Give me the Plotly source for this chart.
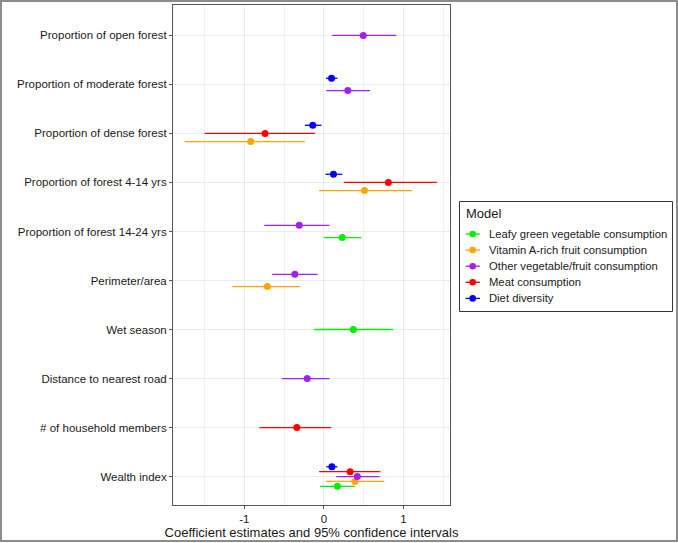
import plotly.graph_objects as go

variables = [
    "Proportion of open forest",
    "Proportion of moderate forest",
    "Proportion of dense forest",
    "Proportion of forest 4-14 yrs",
    "Proportion of forest 14-24 yrs",
    "Perimeter/area",
    "Wet season",
    "Distance to nearest road",
    "# of household members",
    "Wealth index",
]

models = [
    "Leafy green vegetable consumption",
    "Vitamin A-rich fruit consumption",
    "Other vegetable/fruit consumption",
    "Meat consumption",
    "Diet diversity",
]
colors = ["#00EE00", "#FFA500", "#A020F0", "#FF0000", "#0000FF"]

# (variable, estimate, lower, upper) per model
leafy = [
    ("Proportion of forest 14-24 yrs", 0.23, 0.00, 0.47),
    ("Wet season", 0.37, -0.12, 0.87),
    ("Wealth index", 0.17, -0.05, 0.39),
]
vitamin = [
    ("Proportion of dense forest", -0.92, -1.75, -0.24),
    ("Proportion of forest 4-14 yrs", 0.51, -0.06, 1.11),
    ("Perimeter/area", -0.71, -1.15, -0.30),
    ("Wealth index", 0.39, 0.025, 0.76),
]
other = [
    ("Proportion of open forest", 0.495, 0.105, 0.91),
    ("Proportion of moderate forest", 0.30, 0.03, 0.58),
    ("Proportion of forest 14-24 yrs", -0.31, -0.75, 0.07),
    ("Perimeter/area", -0.365, -0.65, -0.08),
    ("Distance to nearest road", -0.21, -0.53, 0.07),
    ("Wealth index", 0.42, 0.155, 0.70),
]
meat = [
    ("Proportion of dense forest", -0.74, -1.50, -0.11),
    ("Proportion of forest 4-14 yrs", 0.81, 0.25, 1.42),
    ("# of household members", -0.34, -0.81, 0.09),
    ("Wealth index", 0.33, -0.06, 0.71),
]
diet = [
    ("Proportion of moderate forest", 0.096, 0.025, 0.17),
    ("Proportion of dense forest", -0.14, -0.24, -0.03),
    ("Proportion of forest 4-14 yrs", 0.12, 0.02, 0.23),
    ("Wealth index", 0.10, 0.03, 0.17),
]
series = [leafy, vitamin, other, meat, diet]

x_ticks = [-1, 0, 1]
x_minor = [-1.5, -0.5, 0.5, 1.5]

# dodge (top-to-bottom order is reverse of legend order)
dodge_width = 0.5
order_top_down = list(reversed(range(len(models))))
present = {v: [m for m in order_top_down if any(r[0] == v for r in series[m])] for v in variables}

fig = go.Figure()
for m, (name, col, rows) in enumerate(zip(models, colors, series)):
    ys, xs, lo, hi = [], [], [], []
    for v, est, l, u in rows:
        grp = present[v]
        n = len(grp)
        i = grp.index(m)
        off = (i - (n - 1) / 2) * dodge_width / n
        ys.append(variables.index(v) + off)
        xs.append(est)
        lo.append(est - l)
        hi.append(u - est)
    fig.add_trace(go.Scatter(
        x=xs, y=ys, mode="markers", name=name, showlegend=False,
        marker=dict(color=col, size=7),
        error_x=dict(type="data", symmetric=False, array=hi, arrayminus=lo,
                     color=col, thickness=1.3, width=0),
    ))

W, H = 678, 543
ml, mr, mt, mb = 173, 228, 5, 38
pw, ph = W - ml - mr, H - mt - mb


def px(xp):
    return (xp - ml) / pw


def py(yp):
    return (H - mb - yp) / ph


shapes = [
    # outer frame
    dict(type="rect", xref="paper", yref="paper",
         x0=px(1), x1=px(W - 1), y0=py(H - 2), y1=py(1),
         line=dict(color="#8c8c8c", width=2), fillcolor="rgba(0,0,0,0)", layer="below"),
    # legend box
    dict(type="rect", xref="paper", yref="paper",
         x0=px(459.5), x1=px(672.5), y0=py(311.5), y1=py(201.5),
         line=dict(color="#333333", width=1), fillcolor="white"),
]
annotations = [
    dict(text="Model", xref="paper", yref="paper", x=px(464), y=py(213.5),
         xanchor="left", yanchor="middle", showarrow=False, font=dict(size=13)),
]
for k, (name, col) in enumerate(zip(models, colors)):
    yc = 234 + 16.1 * k
    shapes.append(dict(type="line", xref="paper", yref="paper",
                       x0=px(465.5), x1=px(480), y0=py(yc), y1=py(yc),
                       line=dict(color=col, width=1.3)))
    shapes.append(dict(type="circle", xref="paper", yref="paper",
                       xsizemode="pixel", ysizemode="pixel",
                       xanchor=px(472.7), yanchor=py(yc),
                       x0=-3.3, x1=3.3, y0=-3.3, y1=3.3,
                       line=dict(color=col, width=0), fillcolor=col))
    annotations.append(dict(text=name, xref="paper", yref="paper", x=px(487), y=py(yc),
                            xanchor="left", yanchor="middle", showarrow=False,
                            font=dict(size=11.25)))

fig.update_layout(
    width=W, height=H,
    margin=dict(l=ml, r=mr, t=mt, b=mb, autoexpand=False),
    showlegend=False,
    plot_bgcolor="white", paper_bgcolor="white",
    font=dict(family="Liberation Sans, Arial, sans-serif", color="#1a1a1a", size=11.5),
    xaxis=dict(
        range=[-1.897, 1.585], tickvals=x_ticks, ticktext=[str(t) for t in x_ticks],
        showgrid=True, gridcolor="#ebebeb", gridwidth=1, zeroline=False,
        minor=dict(tickvals=x_minor, showgrid=True, gridcolor="#f2f2f2", gridwidth=1, ticks=""),
        showline=True, mirror=True, linecolor="#555555", linewidth=1,
        ticks="outside", ticklen=3, tickcolor="#555555",
        title=dict(text="Coefficient estimates and 95% confidence intervals",
                   font=dict(size=13), standoff=2),
    ),
    yaxis=dict(
        range=[len(variables) - 1 + 0.58, -0.62], tickvals=list(range(len(variables))),
        ticktext=variables, showgrid=True, gridcolor="#ebebeb", gridwidth=1, zeroline=False,
        showline=True, mirror=True, linecolor="#555555", linewidth=1,
        ticks="outside", ticklen=3, tickcolor="#555555",
    ),
    shapes=shapes,
    annotations=annotations,
)

fig.write_html("out.html")
